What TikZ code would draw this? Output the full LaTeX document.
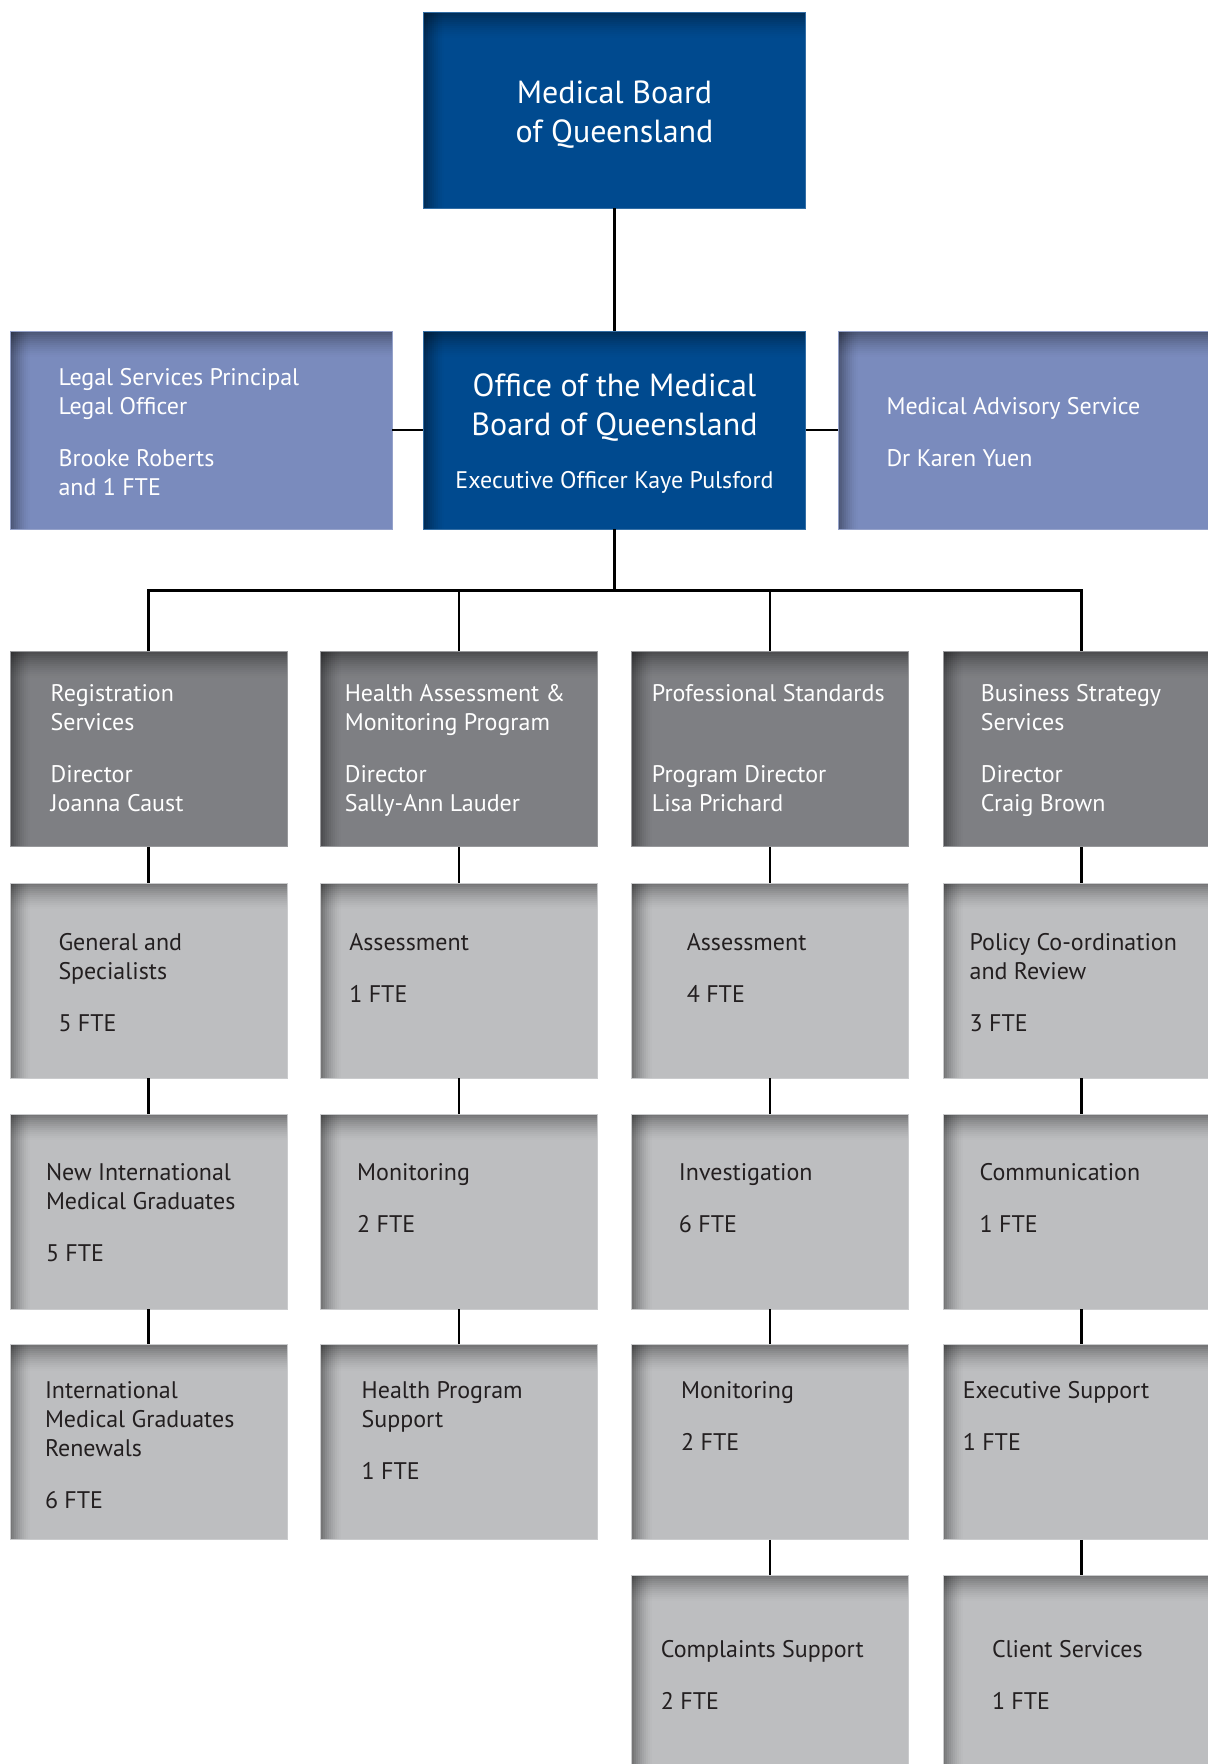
\documentclass[tikz,border=0pt]{standalone}
\usepackage{fontspec}
\setmainfont{PT Sans}
\usetikzlibrary{positioning}

\definecolor{boardblue}{RGB}{0,74,143}
\definecolor{sideblue}{RGB}{122,139,189}
\definecolor{unitgrey}{RGB}{126,127,131}
\definecolor{teamgrey}{RGB}{189,190,192}
\definecolor{inkgrey}{RGB}{35,31,32}

\newcommand{\bodyfont}{\fontsize{12}{14.5}\selectfont}
\newcommand{\titlefont}{\fontsize{16}{19.5}\selectfont}
\newcommand{\gap}{\\[11.5pt]}

\tikzset{
	% box with a soft inner shadow on its top and left edges
	orgbox/.style={fill=#1, draw=#1!80!white, line width=0.4pt, inner sep=0pt,
		minimum width=138.5pt, minimum height=97.5pt,
		path picture={
			\foreach \i [evaluate=\i as \op using {0.38*(1-\i/10)^1.5}] in {0,...,9}
				\fill[black, fill opacity=\op]
					([xshift=\i*1pt]path picture bounding box.north west) rectangle ([xshift=\i*1pt+1pt]path picture bounding box.south west);
			\foreach \i [evaluate=\i as \op using {0.38*(1-\i/13)^1.5}] in {0,...,12}
				\fill[black, fill opacity=\op]
					([yshift=-\i*1pt]path picture bounding box.north west) rectangle ([yshift=-\i*1pt-1pt]path picture bounding box.north east);
		}},
	widebox/.style={orgbox=#1, minimum width=191pt, minimum height=99pt},
	boxtext/.style={inner sep=0pt, align=left, font=\bodyfont, text=white},
	darktext/.style={boxtext, text=inkgrey},
	link/.style={draw=black, line width=1.2pt},
}

\begin{document}
\begin{tikzpicture}[x=0.5pt, y=-0.5pt]
	\useasboundingbox (0,0) rectangle (1208,1764);
	\clip (0,0) rectangle (1208,1764);

	% board and office
	\node[widebox=boardblue, minimum height=98pt] (board) at (614.5,110) {};
	\node[boxtext, align=center, font=\titlefont, below=34.5pt of board.north] (board-t) {Medical Board\\of Queensland};

	\node[widebox=boardblue] (office) at (614.5,430) {};
	\node[boxtext, align=center, font=\titlefont, below=21.5pt of office.north] (office-t)
		{Office of the Medical\\Board of Queensland};
	\node[boxtext, below=14.5pt of office-t] (office-eo) {Executive Officer Kaye Pulsford};

	\node[widebox=sideblue] (legal) at (201,430) {};
	\node[boxtext, below right=18.5pt and 24.25pt of legal.north west] (legal-t)
		{Legal Services Principal\\Legal Officer\gap Brooke Roberts\\and 1 FTE};

	\node[widebox=sideblue] (advice) at (1029,430) {};
	\node[boxtext, below right=33pt and 24.25pt of advice.north west] (advice-t)
		{Medical Advisory Service\gap Dr Karen Yuen};

	% directorates
	\node[orgbox=unitgrey] (reg) at (148.5,749) {};
	\node[boxtext, below right=16.5pt and 20.35pt of reg.north west] (reg-t)
		{Registration\\Services\gap Director\\Joanna Caust};

	\node[orgbox=unitgrey] (health) at (459,749) {};
	\node[boxtext, below right=16.5pt and 12.15pt of health.north west] (health-t)
		{Health Assessment \&\\Monitoring Program\gap Director\\Sally-Ann Lauder};

	\node[orgbox=unitgrey] (prof) at (770,749) {};
	\node[boxtext, below right=16.5pt and 10.2pt of prof.north west] (prof-t)
		{Professional Standards\\[26pt]Program Director\\Lisa Prichard};

	\node[orgbox=unitgrey] (bus) at (1081.5,749) {};
	\node[boxtext, below right=16.5pt and 18.9pt of bus.north west] (bus-t)
		{Business Strategy\\Services\gap Director\\Craig Brown};

	% teams, row by row
	\node[orgbox=teamgrey] (reg-a) at (148.5,980.5) {};
	\node[darktext, below right=25pt and 24.25pt of reg-a.north west] (reg-a-t)
		{General and\\Specialists\gap 5 FTE};
	\node[orgbox=teamgrey] (health-a) at (459,980.5) {};
	\node[darktext, below right=25pt and 14.4pt of health-a.north west] (health-a-t)
		{Assessment\gap 1 FTE};
	\node[orgbox=teamgrey] (prof-a) at (770,980.5) {};
	\node[darktext, below right=25pt and 27.65pt of prof-a.north west] (prof-a-t)
		{Assessment\gap 4 FTE};
	\node[orgbox=teamgrey] (bus-a) at (1081.5,980.5) {};
	\node[darktext, below right=25pt and 13.3pt of bus-a.north west] (bus-a-t)
		{Policy Co-ordination\\and Review\gap 3 FTE};

	\node[orgbox=teamgrey] (reg-b) at (148.5,1211.5) {};
	\node[darktext, below right=24.75pt and 18pt of reg-b.north west] (reg-b-t)
		{New International\\Medical Graduates\gap 5 FTE};
	\node[orgbox=teamgrey] (health-b) at (459,1211.5) {};
	\node[darktext, below right=24.75pt and 18.35pt of health-b.north west] (health-b-t)
		{Monitoring\gap 2 FTE};
	\node[orgbox=teamgrey] (prof-b) at (770,1211.5) {};
	\node[darktext, below right=24.75pt and 23.7pt of prof-b.north west] (prof-b-t)
		{Investigation\gap 6 FTE};
	\node[orgbox=teamgrey] (bus-b) at (1081.5,1211.5) {};
	\node[darktext, below right=24.75pt and 18.35pt of bus-b.north west] (bus-b-t)
		{Communication\gap 1 FTE};

	\node[orgbox=teamgrey] (reg-c) at (148.5,1442) {};
	\node[darktext, below right=18.25pt and 17.5pt of reg-c.north west] (reg-c-t)
		{International\\Medical Graduates\\Renewals\gap 6 FTE};
	\node[orgbox=teamgrey] (health-c) at (459,1442) {};
	\node[darktext, below right=18.25pt and 20.6pt of health-c.north west] (health-c-t)
		{Health Program\\Support\gap 1 FTE};
	\node[orgbox=teamgrey] (prof-c) at (770,1442) {};
	\node[darktext, below right=18.25pt and 24.8pt of prof-c.north west] (prof-c-t)
		{Monitoring\gap 2 FTE};
	\node[orgbox=teamgrey] (bus-c) at (1081.5,1442) {};
	\node[darktext, below right=18.25pt and 9.9pt of bus-c.north west] (bus-c-t)
		{Executive Support\gap 1 FTE};

	\node[orgbox=teamgrey] (prof-d) at (770,1672.5) {};
	\node[darktext, below right=32.65pt and 14.7pt of prof-d.north west] (prof-d-t)
		{Complaints Support\gap 2 FTE};
	\node[orgbox=teamgrey] (bus-d) at (1081.5,1672.5) {};
	\node[darktext, below right=32.65pt and 24.5pt of bus-d.north west] (bus-d-t)
		{Client Services\gap 1 FTE};

	% connectors
	\coordinate (split) at (614.5,590.5);
	\draw[link] (board) -- (office);
	\draw[link] (legal) -- (office);
	\draw[link] (advice) -- (office);
	\draw[link] (office) -- (split);
	\draw[link] (reg.north) |- (split) -| (bus.north);
	\draw[link] (health.north) -- (health.north |- split);
	\draw[link] (prof.north) -- (prof.north |- split);
	\draw[link] (reg) -- (reg-a) (reg-a) -- (reg-b) (reg-b) -- (reg-c);
	\draw[link] (health) -- (health-a) (health-a) -- (health-b) (health-b) -- (health-c);
	\draw[link] (prof) -- (prof-a) (prof-a) -- (prof-b) (prof-b) -- (prof-c) (prof-c) -- (prof-d);
	\draw[link] (bus) -- (bus-a) (bus-a) -- (bus-b) (bus-b) -- (bus-c) (bus-c) -- (bus-d);
\end{tikzpicture}
\end{document}
